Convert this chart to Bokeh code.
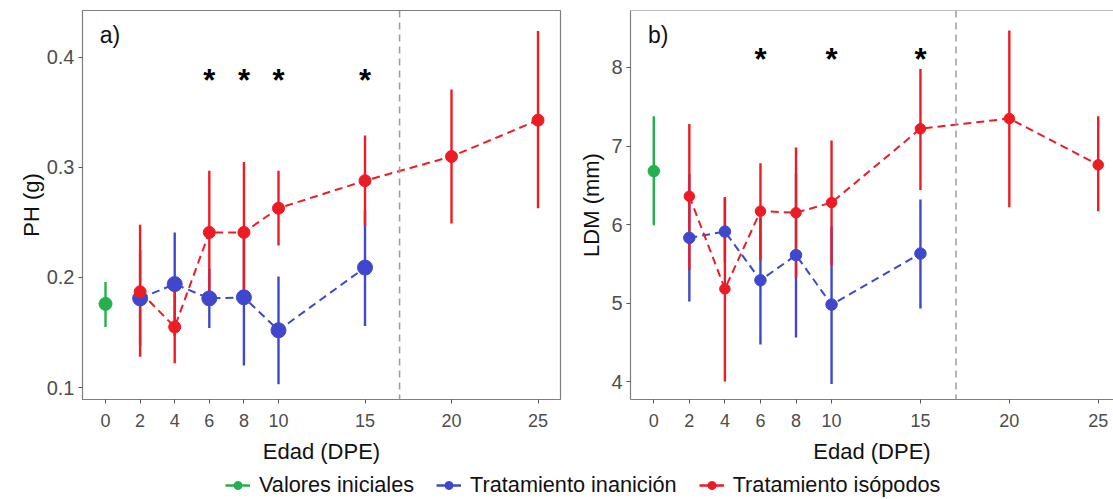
from bokeh.plotting import figure
from bokeh.models import (FixedTicker, Span, Legend, LegendItem, Range1d, Label)
from bokeh.layouts import column, row
from bokeh.embed import file_html
from bokeh.resources import INLINE
from bokeh.core.properties import value

FONT = "Liberation Sans"
GREEN = "#22b14c"
BLUE = "#3f48cc"
RED = "#ed1c24"
BORDER = "#7f7f7f"
TICKTXT = "#4d4d4d"

# ---------------- data ----------------
x_ticks = [0, 2, 4, 6, 8, 10, 15, 20, 25]
cutoff_age = 17

# panel a) PH (g)
a_ini_x = [0]
a_ini_y = [0.176]
a_ini_lo = [0.155]
a_ini_hi = [0.196]

a_inan_x = [2, 4, 6, 8, 10, 15]
a_inan_y = [0.181, 0.194, 0.181, 0.182, 0.152, 0.209]
a_inan_lo = [0.138, 0.147, 0.154, 0.120, 0.103, 0.156]
a_inan_hi = [0.225, 0.241, 0.208, 0.238, 0.201, 0.261]

a_iso_x = [2, 4, 6, 8, 10, 15, 20, 25]
a_iso_y = [0.187, 0.155, 0.241, 0.241, 0.263, 0.288, 0.310, 0.343]
a_iso_lo = [0.128, 0.122, 0.184, 0.177, 0.229, 0.247, 0.249, 0.263]
a_iso_hi = [0.248, 0.188, 0.297, 0.305, 0.297, 0.329, 0.371, 0.424]

a_sig_x = [6, 8, 10, 15]
a_sig_y = 0.379
a_yticks = [0.1, 0.2, 0.3, 0.4]

# panel b) LDM (mm)
b_ini_x = [0]
b_ini_y = [6.68]
b_ini_lo = [5.99]
b_ini_hi = [7.38]

b_inan_x = [2, 4, 6, 8, 10, 15]
b_inan_y = [5.83, 5.91, 5.29, 5.61, 4.98, 5.63]
b_inan_lo = [5.02, 5.52, 4.47, 4.56, 3.97, 4.93]
b_inan_hi = [6.64, 6.33, 6.09, 6.65, 5.97, 6.32]

b_iso_x = [2, 4, 6, 8, 10, 15, 20, 25]
b_iso_y = [6.36, 5.18, 6.17, 6.15, 6.28, 7.22, 7.35, 6.76]
b_iso_lo = [5.42, 4.00, 5.54, 5.32, 5.48, 6.44, 6.22, 6.17]
b_iso_hi = [7.28, 6.35, 6.78, 6.98, 7.07, 7.98, 8.47, 7.38]

b_sig_x = [6, 10, 15]
b_sig_y = 8.10
b_yticks = [4, 5, 6, 7, 8]

legend_labels = ["Valores iniciales", "Tratamiento inanición", "Tratamiento isópodos"]


def make_panel(width, min_left, min_right, xr, yr, yticks, ylabel, tag, tag_y,
               ini, inan, iso, sig_x, sig_y, sizes, full_outline, ytitle_standoff):
    p = figure(width=width, height=468, output_backend="svg", toolbar_location=None,
               x_range=Range1d(*xr), y_range=Range1d(*yr),
               min_border_left=min_left, min_border_right=min_right,
               min_border_top=10, min_border_bottom=69)
    p.xgrid.visible = False
    p.ygrid.visible = False
    p.background_fill_color = "white"
    if full_outline:
        p.outline_line_color = BORDER
        p.outline_line_width = 1.2
        axis_line = None
    else:
        p.outline_line_color = None
        axis_line = BORDER
        p.add_layout(Span(location=yr[1], dimension="width", line_color=BORDER, line_width=1.2))

    p.xaxis.ticker = FixedTicker(ticks=x_ticks)
    p.yaxis.ticker = FixedTicker(ticks=yticks)
    p.xaxis.axis_label = "Edad (DPE)"
    p.yaxis.axis_label = ylabel
    for ax in p.axis:
        ax.axis_line_color = axis_line
        ax.axis_line_width = 1.2
        ax.major_tick_line_color = "#555555"
        ax.major_tick_out = 4
        ax.major_tick_in = 0
        ax.minor_tick_line_color = None
        ax.major_label_text_color = TICKTXT
        ax.major_label_text_font = FONT
        ax.axis_label_text_font = FONT
        ax.axis_label_text_font_style = "normal"
        ax.axis_label_text_color = "#111111"
        ax.axis_label_text_font_size = "22px"
    p.xaxis.major_label_text_font_size = "18px"
    p.yaxis.major_label_text_font_size = "20px"
    p.xaxis.major_label_standoff = 10
    p.yaxis.major_label_standoff = 4
    p.xaxis.axis_label_standoff = 9
    p.yaxis.axis_label_standoff = ytitle_standoff

    # cut-off vertical dashed line
    p.add_layout(Span(location=cutoff_age, dimension="height", line_color="#9a9a9a",
                      line_width=1.5, line_dash="7 5"))

    groups = [(ini, GREEN, sizes[0]), (inan, BLUE, sizes[1]), (iso, RED, sizes[2])]
    for (gx, gy, glo, ghi), col, _ in groups[1:]:
        p.line(gx, gy, line_color=col, line_width=2, line_dash="8 5")
    for (gx, gy, glo, ghi), col, _ in groups:
        p.segment(x0=gx, y0=glo, x1=gx, y1=ghi, line_color=col, line_width=2.4)
    for (gx, gy, glo, ghi), col, s in groups:
        p.scatter(gx, gy, size=s, fill_color=col, line_color=col)

    p.text(x=sig_x, y=[sig_y] * len(sig_x), text=["*"] * len(sig_x),
           text_font=value(FONT), text_font_size="31px", text_font_style="bold",
           text_align="center", text_baseline="middle", text_color="black")
    p.add_layout(Label(x=-0.33, y=tag_y, text=tag, text_font=FONT, text_font_size="23px",
                       text_baseline="middle", text_align="left", text_color="#111111"))
    return p


pa = make_panel(575, 82, 15, (-1.33, 26.3), (0.0891, 0.4427), a_yticks, "PH (g)", "a)", 0.42,
                (a_ini_x, a_ini_y, a_ini_lo, a_ini_hi),
                (a_inan_x, a_inan_y, a_inan_lo, a_inan_hi),
                (a_iso_x, a_iso_y, a_iso_lo, a_iso_hi),
                a_sig_x, a_sig_y, (13, 15, 12), True, 0)

pb = make_panel(538, 55, 0, (-1.31, 25.86), (3.771, 8.726), b_yticks, "LDM (mm)", "b)", 8.41,
                (b_ini_x, b_ini_y, b_ini_lo, b_ini_hi),
                (b_inan_x, b_inan_y, b_inan_lo, b_inan_hi),
                (b_iso_x, b_iso_y, b_iso_lo, b_iso_hi),
                b_sig_x, b_sig_y, (11.5, 11.5, 10.5), False, 4)

# legend strip
pl = figure(width=1113, height=31, output_backend="svg", toolbar_location=None,
            x_range=Range1d(0, 1), y_range=Range1d(0, 1),
            min_border_left=0, min_border_right=0, min_border_top=0, min_border_bottom=0)
pl.outline_line_color = None
pl.xaxis.visible = False
pl.yaxis.visible = False
pl.xgrid.visible = False
pl.ygrid.visible = False
nan = float("nan")
items = []
for lab, col in zip(legend_labels, [GREEN, BLUE, RED]):
    lr = pl.line(x=[nan, nan], y=[nan, nan], line_color=col, line_width=2.5)
    sr = pl.scatter(x=[nan], y=[nan], fill_color=col, line_color=col)
    items.append(LegendItem(label=lab, renderers=[lr, sr]))
leg = Legend(items=items, orientation="horizontal", location=(225, 1),
             glyph_width=25, glyph_height=20, label_standoff=9, spacing=22,
             padding=0, margin=0, border_line_color=None, background_fill_alpha=0,
             label_text_font=FONT, label_text_font_size="21.7px", label_text_color="#111111")
pl.add_layout(leg, "center")

layout = column(row(pa, pb), pl)
open("out.html", "w").write(file_html(layout, INLINE))
